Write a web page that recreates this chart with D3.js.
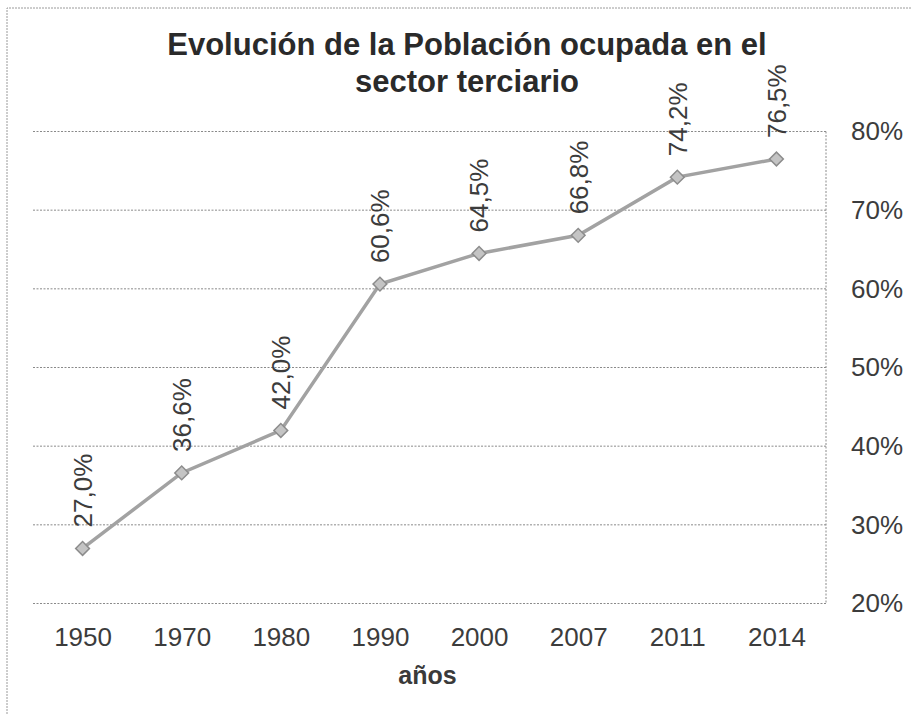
<!DOCTYPE html>
<html>
<head>
<meta charset="utf-8">
<script src="https://cdn.jsdelivr.net/npm/d3@7"></script>
<style>
  body { margin: 0; background: #fff; }
  svg { display: block; font-family: "Liberation Sans", Arial, sans-serif; }
</style>
</head>
<body>
<svg id="chart" width="911" height="714"></svg>
<script>
var years = ['1950', '1970', '1980', '1990', '2000', '2007', '2011', '2014'],
    shares = [27.0, 36.6, 42.0, 60.6, 64.5, 66.8, 74.2, 76.5],
    yTicks = [20, 30, 40, 50, 60, 70, 80],
    titleLines = ['Evolución de la Población ocupada en el', 'sector terciario'],
    xTitle = 'años';

function pct( v, digits ) {
  // spanish style decimal comma
  return v.toFixed( digits ).replace( '.', ',' ) + '%';
}

var svg = d3.select( '#chart' ),
    plot = { left: 33, right: 826, top: 131.5, bottom: 603.5 };

var x = d3.scalePoint()
      .domain( years )
      .range( [plot.left, plot.right] )
      .padding( 0.5 ),
    y = d3.scaleLinear()
      .domain( [20, 80] )
      .range( [plot.bottom, plot.top] );

// outer frame of the scanned chart (top and left edges only)
svg.append( 'path' )
  .attr( 'd', 'M7,' + 714 + 'V8H911' )
  .attr( 'fill', 'none' )
  .attr( 'stroke', '#9a9a9a' )
  .attr( 'stroke-width', 1 )
  .attr( 'stroke-dasharray', '2,1' );

// title
svg.append( 'text' )
  .attr( 'x', 467 )
  .attr( 'text-anchor', 'middle' )
  .attr( 'font-size', 31 )
  .attr( 'font-weight', 'bold' )
  .attr( 'fill', '#2a2a2a' )
  .selectAll( 'tspan' )
  .data( titleLines ).enter()
  .append( 'tspan' )
    .attr( 'x', 467 )
    .attr( 'y', function( d, i ) { return 55 + i * 37; } )
    .text( function( d ) { return d; } );

// horizontal gridlines
svg.append( 'g' )
  .selectAll( 'line' )
  .data( yTicks ).enter()
  .append( 'line' )
    .attr( 'x1', plot.left )
    .attr( 'x2', plot.right )
    .attr( 'y1', function( d ) { return y( d ); } )
    .attr( 'y2', function( d ) { return y( d ); } )
    .attr( 'stroke', '#8a8a8a' )
    .attr( 'stroke-width', 1 )
    .attr( 'stroke-dasharray', '2,1.5' );

// right edge of plot area
svg.append( 'line' )
  .attr( 'x1', plot.right ).attr( 'x2', plot.right )
  .attr( 'y1', plot.top ).attr( 'y2', plot.bottom )
  .attr( 'stroke', '#8a8a8a' )
  .attr( 'stroke-dasharray', '2,1.5' );

// right y axis
var yAxis = svg.append( 'g' )
  .attr( 'transform', 'translate(' + plot.right + ',0)' )
  .call( d3.axisRight( y ).tickValues( yTicks ).tickSize( 0 ).tickPadding( 25 )
    .tickFormat( function( d ) { return d + '%'; } ) );
yAxis.select( '.domain' ).remove();
yAxis.selectAll( 'text' )
  .attr( 'font-size', 26 )
  .attr( 'font-family', '"Liberation Sans", Arial, sans-serif' )
  .attr( 'fill', '#3c3c3c' );

// x axis labels
var xAxis = svg.append( 'g' )
  .attr( 'transform', 'translate(0,' + plot.bottom + ')' )
  .call( d3.axisBottom( x ).tickSize( 0 ).tickPadding( 24 ) );
xAxis.select( '.domain' ).remove();
xAxis.selectAll( 'text' )
  .attr( 'font-size', 26 )
  .attr( 'font-family', '"Liberation Sans", Arial, sans-serif' )
  .attr( 'fill', '#3c3c3c' );

svg.append( 'text' )
  .attr( 'x', ( plot.left + plot.right ) / 2 - 2 )
  .attr( 'y', 684 )
  .attr( 'text-anchor', 'middle' )
  .attr( 'font-size', 25 )
  .attr( 'font-weight', 'bold' )
  .attr( 'fill', '#3a3a3a' )
  .text( xTitle );

var points = years.map( function( yr, i ) {
  return { year: yr, value: shares[i] };
} );

// series line
svg.append( 'path' )
  .datum( points )
  .attr( 'fill', 'none' )
  .attr( 'stroke', '#a2a2a2' )
  .attr( 'stroke-width', 3.5 )
  .attr( 'd', d3.line()
    .x( function( d ) { return x( d.year ); } )
    .y( function( d ) { return y( d.value ); } ) );

// diamond markers
svg.append( 'g' )
  .selectAll( 'path' )
  .data( points ).enter()
  .append( 'path' )
    .attr( 'd', d3.symbol().type( d3.symbolSquare ).size( 95 ) )
    .attr( 'transform', function( d ) {
      return 'translate(' + x( d.year ) + ',' + y( d.value ) + ') rotate(45)';
    } )
    .attr( 'fill', '#c4c4c4' )
    .attr( 'stroke', '#8c8c8c' )
    .attr( 'stroke-width', 1.5 );

// rotated value labels
svg.append( 'g' )
  .selectAll( 'text' )
  .data( points ).enter()
  .append( 'text' )
    .attr( 'transform', function( d ) {
      return 'translate(' + x( d.year ) + ',' + ( y( d.value ) - 21 ) + ') rotate(-90)';
    } )
    .attr( 'dy', '0.36em' )
    .attr( 'font-size', 26 )
    .attr( 'fill', '#3c3c3c' )
    .text( function( d ) { return pct( d.value, 1 ); } );
</script>
</body>
</html>
